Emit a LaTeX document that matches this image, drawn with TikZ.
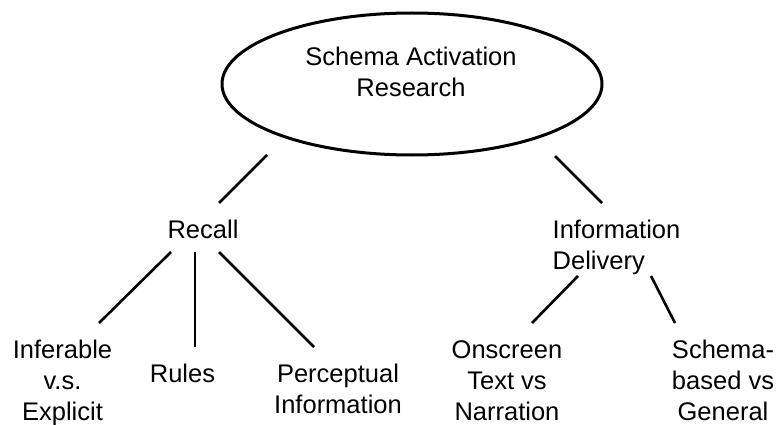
\documentclass[tikz,border=0pt]{standalone}
\usepackage{fontspec}
\setmainfont{Liberation Sans}
\usetikzlibrary{shapes.geometric,calc}
\tikzset{
  txt/.style={font=\fontsize{25.5}{31}\selectfont, inner sep=0pt, anchor=base, align=center},
  conn/.style={line width=2.6pt, black},
  oval/.style={ellipse, draw, line width=3pt, minimum width=380pt, minimum height=142pt, inner sep=0pt}
}
\begin{document}
\begin{tikzpicture}[x=1pt,y=-1pt]
\useasboundingbox (0,0) rectangle (778,425);
\node[oval] (root) at (412,84) {};
\node[txt] (roottext) at (411,96) {Schema Activation\\Research};
\node[txt] (recall) at (203,238.5) {Recall};
\node[txt, align=left] (info) at (616.5,269.5) {Information\\Delivery};
\node[txt] (inferable) at (62.5,420) {Inferable\\v.s.\\Explicit};
\node[txt] (rules) at (182.5,382) {Rules};
\node[txt] (perceptual) at (338,413) {Perceptual\\Information};
\node[txt] (onscreen) at (507,420) {Onscreen\\Text vs\\Narration};
\node[txt] (schema) at (723,420) {Schema-\\based vs\\General};
\draw[conn] ($(root.center)+(-145,71)$) -- ($(recall.base)+(16,-35.5)$);
\draw[conn] ($(root.center)+(143,72)$) -- ($(info.base)+(-14.5,-66.5)$);
\draw[conn] ($(recall.base)+(-32,13.5)$) -- ($(inferable.base)+(36.5,-97)$);
\draw[conn] ($(recall.base)+(-8,13.5)$) -- ($(rules.base)+(12.5,-35)$);
\draw[conn] ($(recall.base)+(16,13.5)$) -- ($(perceptual.base)+(-24,-66)$);
\draw[conn] ($(info.base)+(-38.5,6.5)$) -- ($(onscreen.base)+(25,-97)$);
\draw[conn] ($(info.base)+(34.5,6.5)$) -- ($(schema.base)+(-48,-97)$);
\end{tikzpicture}
\end{document}
